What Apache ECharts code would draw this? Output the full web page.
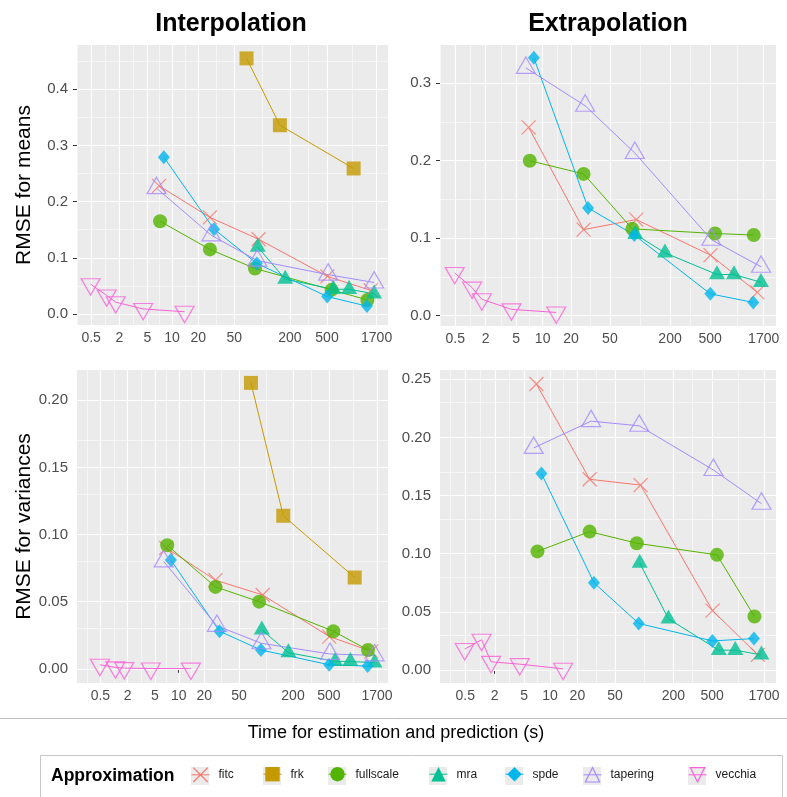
<!DOCTYPE html>
<html><head><meta charset="utf-8">
<script src="https://cdn.jsdelivr.net/npm/echarts@6/dist/echarts.min.js"></script>
<style>html,body{margin:0;padding:0;background:#fff}#c{width:787px;height:797px}</style>
</head><body><div id="c"></div>
<script>
// ---------------- data ----------------
const methods = ['fitc', 'frk', 'fullscale', 'mra', 'spde', 'tapering', 'vecchia'];
const colors = ['#F8766D', '#C49A00', '#53B400', '#00C094', '#00B6EB', '#A58AFF', '#FB61D7'];

// time for estimation and prediction (s)
const time_fitc = [7.0, 27, 92, 505, 1470];
const time_frk = [68, 156, 965];
const time_fullscale = [7.2, 27, 84, 560, 1355];
const time_mra = [90, 178, 585, 863, 1597];
const time_spde = [8, 30, 88, 503, 1340];
const time_tapering = [6.5, 28, 89, 515, 1600];
const time_vecchia = [0.48, 1.2, 1.75, 4.4, 14];

// Interpolation - RMSE for means
const interpMean_fitc = [0.228, 0.172, 0.133, 0.067, 0.042];
const interpMean_frk = [0.455, 0.336, 0.259];
const interpMean_fullscale = [0.165, 0.115, 0.081, 0.043, 0.025];
const interpMean_mra = [0.119, 0.062, 0.044, 0.044, 0.036];
const interpMean_spde = [0.279, 0.151, 0.090, 0.031, 0.014];
const interpMean_tapering = [0.224, 0.140, 0.095, 0.070, 0.056];
const interpMean_vecchia = [0.053, 0.033, 0.021, 0.009, 0.004];

// Extrapolation - RMSE for means
const extrapMean_fitc = [0.243, 0.111, 0.124, 0.078, 0.030];
const extrapMean_fullscale = [0.200, 0.183, 0.112, 0.106, 0.104];
const extrapMean_mra = [0.105, 0.081, 0.053, 0.053, 0.043];
const extrapMean_spde = [0.333, 0.139, 0.104, 0.028, 0.017];
const extrapMean_tapering = [0.320, 0.271, 0.210, 0.098, 0.063];
const extrapMean_vecchia = [0.055, 0.036, 0.021, 0.008, 0.004];

// Interpolation - RMSE for variances
const interpVar_fitc = [0.090, 0.066, 0.055, 0.024, 0.013];
const interpVar_frk = [0.213, 0.114, 0.068];
const interpVar_fullscale = [0.092, 0.061, 0.050, 0.028, 0.014];
const interpVar_mra = [0.029, 0.012, 0.0055, 0.0055, 0.0045];
const interpVar_spde = [0.081, 0.028, 0.014, 0.003, 0.002];
const interpVar_tapering = [0.080, 0.032, 0.019, 0.011, 0.010];
const interpVar_vecchia = [0.003, 0.001, 0.0005, 0.0002, 0.0001];

// Extrapolation - RMSE for variances
const extrapVar_fitc = [0.246, 0.164, 0.159, 0.051, 0.013];
const extrapVar_fullscale = [0.102, 0.119, 0.109, 0.099, 0.046];
const extrapVar_mra = [0.092, 0.044, 0.017, 0.017, 0.013];
const extrapVar_spde = [0.169, 0.075, 0.040, 0.025, 0.027];
const extrapVar_tapering = [0.191, 0.214, 0.210, 0.172, 0.143];
const extrapVar_vecchia = [0.018, 0.026, 0.007, 0.005, 0.001];

// axis breaks / tick labels
const xBreaks = [0.5, 2, 5, 10, 20, 50, 200, 500, 1700];
const xBreakLabels = ['0.5', '2', '5', '10', '20', '50', '200', '500', '1700'];
const yBreaksMeanInterp = [0, 0.1, 0.2, 0.3, 0.4];
const yBreaksMeanExtrap = [0, 0.1, 0.2, 0.3];
const yBreaksVarInterp = [0, 0.05, 0.10, 0.15, 0.20];
const yBreaksVarExtrap = [0, 0.05, 0.10, 0.15, 0.20, 0.25];

const panelTitles = ['Interpolation', 'Extrapolation'];
const yTitles = ['RMSE for means', 'RMSE for variances'];
const xTitle = 'Time for estimation and prediction (s)';
const legendTitle = 'Approximation';

// ---------------- build ----------------
const times = { fitc: time_fitc, frk: time_frk, fullscale: time_fullscale, mra: time_mra, spde: time_spde, tapering: time_tapering, vecchia: time_vecchia };
const panelData = [
  { fitc: interpMean_fitc, frk: interpMean_frk, fullscale: interpMean_fullscale, mra: interpMean_mra, spde: interpMean_spde, tapering: interpMean_tapering, vecchia: interpMean_vecchia },
  { fitc: extrapMean_fitc, fullscale: extrapMean_fullscale, mra: extrapMean_mra, spde: extrapMean_spde, tapering: extrapMean_tapering, vecchia: extrapMean_vecchia },
  { fitc: interpVar_fitc, frk: interpVar_frk, fullscale: interpVar_fullscale, mra: interpVar_mra, spde: interpVar_spde, tapering: interpVar_tapering, vecchia: interpVar_vecchia },
  { fitc: extrapVar_fitc, fullscale: extrapVar_fullscale, mra: extrapVar_mra, spde: extrapVar_spde, tapering: extrapVar_tapering, vecchia: extrapVar_vecchia }
];
const yBreaks = [yBreaksMeanInterp, yBreaksMeanExtrap, yBreaksVarInterp, yBreaksVarExtrap];
const yDigits = [1, 1, 2, 2];

// layout (pixels)
const grids = [
  { left: 77, top: 45, width: 311, height: 280 },
  { left: 440, top: 45, width: 336, height: 281 },
  { left: 77, top: 370, width: 311, height: 313 },
  { left: 440, top: 370, width: 336, height: 313 }
];
const xLim = [[0.057, 7.72], [0.057, 7.72], [-0.19, 7.72], [-0.19, 7.72]];
const yLim = [[-0.0196, 0.4788], [-0.0135, 0.3495], [-0.0106, 0.2226], [-0.0112, 0.258]];

const FONT = 'Liberation Sans, Arial, sans-serif';
const tx = v => Math.log1p(v);
const xBreaksU = xBreaks.map(tx);

function minorOf(b, lo, hi) {
  const bd = b[1] - b[0];
  const ext = [b[0] - bd].concat(b, [b[b.length - 1] + bd]);
  const out = [];
  for (let i = 0; i < ext.length - 1; i++) out.push((ext[i] + ext[i + 1]) / 2);
  return out.filter(v => v > lo && v < hi);
}

const symSpec = {
  fitc: { symbol: 'path://M0,0L1,1M1,0L0,1', size: [14, 14], filled: false, offset: [0, 0] },
  frk: { symbol: 'rect', size: [14, 14], filled: true, offset: [0, 0] },
  fullscale: { symbol: 'circle', size: [14, 14], filled: true, offset: [0, 0] },
  mra: { symbol: 'triangle', size: [16, 14], filled: true, offset: [0, -2.3] },
  spde: { symbol: 'diamond', size: [12, 14], filled: true, offset: [0, 0] },
  tapering: { symbol: 'triangle', size: [19, 16.4], filled: false, offset: [0, -2.7] },
  vecchia: { symbol: 'path://M0,0L2,0L1,1.732Z', size: [19, 16.4], filled: false, offset: [0, 2.7] }
};
function itemStyleFor(m) {
  const c = colors[methods.indexOf(m)];
  return symSpec[m].filled ? { color: c, borderWidth: 0 } : { color: 'rgba(0,0,0,0)', borderColor: c, borderWidth: 1.2 };
}

const gridOpt = [], xAxes = [], yAxes = [], series = [];
grids.forEach((g, i) => {
  gridOpt.push(Object.assign({ show: true, backgroundColor: '#EBEBEB', borderWidth: 0, containLabel: false }, g));
  xAxes.push({
    type: 'value', gridIndex: i, min: xLim[i][0], max: xLim[i][1],
    axisLine: { show: false }, splitLine: { show: false },
    axisTick: { show: true, customValues: xBreaksU, length: 4, lineStyle: { color: '#333333', width: 1 } },
    axisLabel: {
      customValues: xBreaksU, color: '#4D4D4D', fontSize: 14, fontFamily: FONT, margin: 6,
      formatter: v => { let k = 0, d = 1e9; xBreaksU.forEach((u, j) => { if (Math.abs(u - v) < d) { d = Math.abs(u - v); k = j; } }); return xBreakLabels[k]; }
    }
  });
  const yb = yBreaks[i];
  yAxes.push({
    type: 'value', gridIndex: i, min: yLim[i][0], max: yLim[i][1],
    axisLine: { show: false }, splitLine: { show: false },
    axisTick: { show: true, customValues: yb, length: 4, lineStyle: { color: '#333333', width: 1 } },
    axisLabel: { customValues: yb, color: '#4D4D4D', fontSize: 15, fontFamily: FONT, margin: 9, formatter: v => Number(v).toFixed(yDigits[i]) },
    name: (i % 2 === 0) ? yTitles[i / 2] : '', nameLocation: 'middle', nameGap: 42,
    nameTextStyle: { fontSize: 21, color: '#000', fontFamily: FONT }
  });
  // panel grid lines
  const xMinor = minorOf(xBreaksU, xLim[i][0], xLim[i][1]);
  const yMinor = minorOf(yb, yLim[i][0], yLim[i][1]);
  const mlData = [];
  xMinor.forEach(u => mlData.push({ xAxis: u, lineStyle: { width: 0.55 } }));
  yMinor.forEach(v => mlData.push({ yAxis: v, lineStyle: { width: 0.55 } }));
  xBreaksU.filter(u => u > xLim[i][0] && u < xLim[i][1]).forEach(u => mlData.push({ xAxis: u, lineStyle: { width: 1.1 } }));
  yb.forEach(v => mlData.push({ yAxis: v, lineStyle: { width: 1.1 } }));
  series.push({
    type: 'line', name: '_grid' + i, xAxisIndex: i, yAxisIndex: i, data: [], silent: true,
    markLine: { z: 1, silent: true, animation: false, symbol: ['none', 'none'], label: { show: false },
      lineStyle: { color: '#FFFFFF', type: 'solid' }, emphasis: { disabled: true }, data: mlData }
  });
});

// lines first (legend picks them), then points on top
const pointSeries = [];
panelData.forEach((pd, i) => {
  methods.forEach((m, mi) => {
    if (!pd[m]) return;
    const t = times[m];
    const pts = pd[m].map((y, k) => [tx(t[k]), y]);
    const sp = symSpec[m];
    series.push({
      type: 'line', name: m, xAxisIndex: i, yAxisIndex: i, data: pts, z: 2,
      symbol: sp.symbol, showSymbol: false, silent: true, animation: false,
      lineStyle: { color: colors[mi], width: 1 }, itemStyle: itemStyleFor(m), emphasis: { disabled: true }
    });
    pointSeries.push({
      type: 'scatter', name: m, xAxisIndex: i, yAxisIndex: i, data: pts, z: 3,
      symbol: sp.symbol, symbolSize: sp.size, symbolOffset: sp.offset, silent: true, animation: false,
      itemStyle: itemStyleFor(m), emphasis: { disabled: true }
    });
  });
});
series.push(...pointSeries);

// legend: one component per key for exact placement
const keyCenters = [200, 272, 337, 438, 514, 592, 697];
const keyY = 776, keySize = 18;
const legends = methods.map((m, mi) => ({
  left: keyCenters[mi] - keySize / 2, top: keyY - keySize / 2, padding: 0,
  itemWidth: keySize, itemHeight: keySize, selectedMode: false,
  textStyle: { fontSize: 12, color: '#1A1A1A', fontFamily: FONT, padding: [3, 0, 0, 4] },
  data: [{ name: m, itemStyle: itemStyleFor(m), lineStyle: { color: colors[mi], width: 1 } }]
}));
const graphics = [
  { type: 'line', shape: { x1: 0, y1: 718.5, x2: 787, y2: 718.5 }, style: { stroke: '#BDBDBD', lineWidth: 1 } },
  { type: 'rect', shape: { x: 40.5, y: 755.5, width: 742, height: 60 }, style: { fill: '#FFFFFF', stroke: '#C6C6C6', lineWidth: 1 } }
];
keyCenters.forEach(c => graphics.push({ type: 'rect', shape: { x: c - keySize / 2, y: keyY - keySize / 2, width: keySize, height: keySize }, style: { fill: '#EBEBEB' } }));

const option = {
  animation: false,
  backgroundColor: '#FFFFFF',
  title: [
    { text: panelTitles[0], left: 231, top: 12, padding: 0, textAlign: 'center', textStyle: { fontSize: 25, fontWeight: 'bold', color: '#000', fontFamily: FONT } },
    { text: panelTitles[1], left: 608, top: 12, padding: 0, textAlign: 'center', textStyle: { fontSize: 25, fontWeight: 'bold', color: '#000', fontFamily: FONT } },
    { text: xTitle, left: 396, top: 724, padding: 0, textAlign: 'center', textStyle: { fontSize: 18, fontWeight: 'normal', color: '#000', fontFamily: FONT } },
    { text: legendTitle, left: 51, top: 767, padding: 0, textStyle: { fontSize: 17.5, fontWeight: 'bold', color: '#000', fontFamily: FONT } }
  ],
  graphic: { elements: graphics },
  legend: legends,
  grid: gridOpt,
  xAxis: xAxes,
  yAxis: yAxes,
  series: series
};
const chart = echarts.init(document.getElementById('c'), null, { renderer: 'canvas' });
chart.setOption(option);
</script></body></html>
